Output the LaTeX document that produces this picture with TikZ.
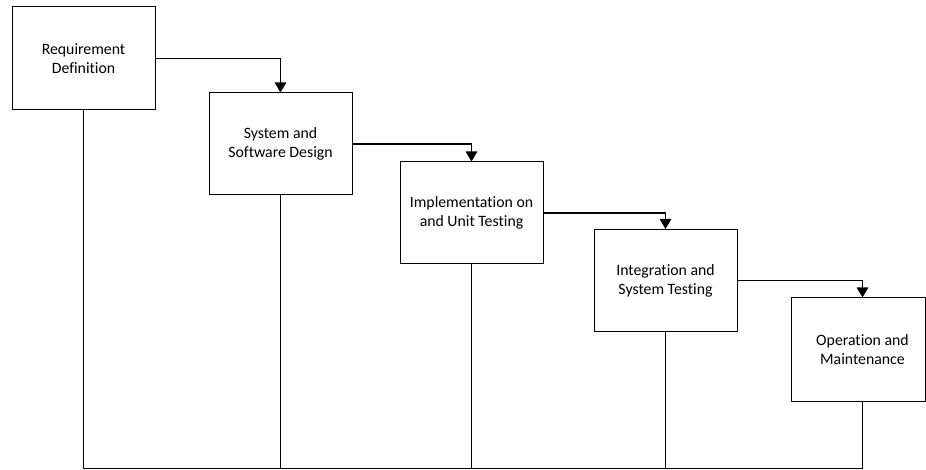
\documentclass[tikz,border=0pt]{standalone}
\usepackage{fontspec}
\setmainfont{Carlito}[RawFeature={-liga}]
\usetikzlibrary{arrows.meta}
\begin{document}
\begin{tikzpicture}[x=1pt,y=-1pt,
  box/.style={draw=black,line width=1pt,fill=white,minimum width=143pt,minimum height=102pt,inner sep=0pt,align=center,font=\fontsize{15.8pt}{19pt}\selectfont},
  lbl/.style={inner sep=0pt,align=center,font=\fontsize{15.8pt}{19pt}\selectfont},
  conn/.style={draw=black,line width=1.2pt},
  arr/.style={conn,-{Triangle[length=10pt,width=11.5pt]}}]
\useasboundingbox[fill=white] (0,0) rectangle (926,470);
\coordinate (bot) at (0,468.5);
\coordinate (m5) at (862.5,0);
\node[box,minimum height=103pt] (b1) at (83.5,58.5) {Requirement\\Definition};
\node[box] (b2) at (280.5,144) {System and\\Software Design};
\node[box] (b3) at (471.5,213) {Implementation on\\and Unit Testing};
\node[box] (b4) at (665.5,280.5) {Integration and\\System Testing};
\node[box,minimum width=134pt,minimum height=103pt] (b5) at (858,349.5) {};
\node[lbl] (t5) at (862.5,349.5) {Operation and\\Maintenance};
\draw[arr] (b1.east) -| (b2.north);
\draw[arr] (b2.east) -| (b3.north);
\draw[arr] (b3.east) -| (b4.north);
\draw[arr] (b4.east) -| (b5.north -| m5);
\draw[conn] (b1.south) -- (b1.south |- bot);
\draw[conn] (b2.south) -- (b2.south |- bot);
\draw[conn] (b3.south) -- (b3.south |- bot);
\draw[conn] (b4.south) -- (b4.south |- bot);
\draw[conn] (b5.south -| m5) -- (m5 |- bot);
\draw[conn] (b1.south |- bot) -- (m5 |- bot);
\end{tikzpicture}
\end{document}
